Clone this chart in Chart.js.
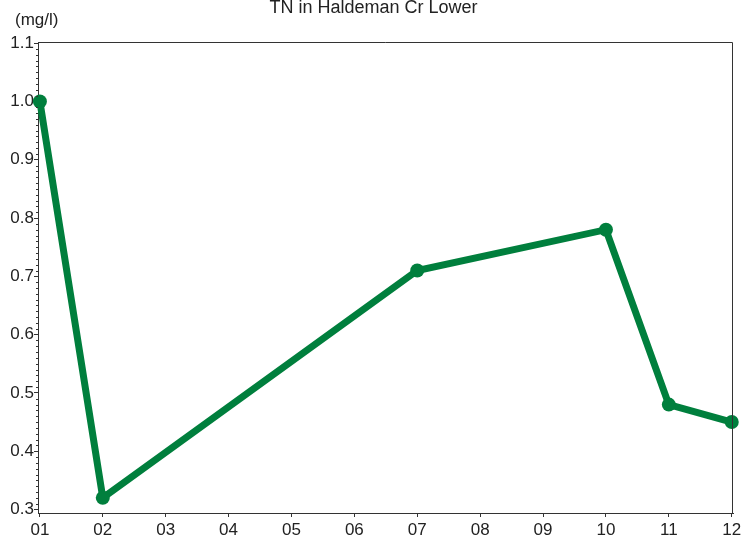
<!DOCTYPE html>
<html>
<head>
<meta charset="utf-8">
<script src="https://cdn.jsdelivr.net/npm/chart.js@4/dist/chart.umd.min.js"></script>
<style>
  html, body { margin: 0; padding: 0; background: #fff; }
  canvas { display: block; }
</style>
</head>
<body>
<canvas id="chart" width="741" height="540"></canvas>
<script>
const months = [1, 2, 7, 10, 11, 12]
const tnValues = [1.0, 0.32, 0.71, 0.78, 0.48, 0.45]
const xTickValues = [1, 2, 3, 4, 5, 6, 7, 8, 9, 10, 11, 12]
const yTickValues = [0.3, 0.4, 0.5, 0.6, 0.7, 0.8, 0.9, 1.0, 1.1]
const chartTitle = "TN in Haldeman Cr Lower"
const unitLabel = "(mg/l)"

const green = "#007f3d"
const inkColor = "#222"
const fontFamily = "Arial, 'Liberation Sans', sans-serif"

// frame, minor ticks and header texts
const decorations = {
  id: "decorations",
  afterDraw(chart) {
    const ctx = chart.ctx
    const area = chart.chartArea
    const y = chart.scales.y
    ctx.save()
    ctx.strokeStyle = "#333"
    ctx.lineWidth = 1
    ctx.beginPath()
    ctx.moveTo(area.left, area.top + 0.5)
    ctx.lineTo(area.right - 0.5, area.top + 0.5)
    ctx.lineTo(area.right - 0.5, area.bottom)
    ctx.stroke()

    ctx.beginPath()
    for (let i = 30; i <= 110; i++) {
      if (i % 10 === 0) continue
      const py = Math.round(y.getPixelForValue(i / 100)) + 0.5
      ctx.moveTo(area.left - 2, py)
      ctx.lineTo(area.left, py)
    }
    ctx.stroke()

    ctx.fillStyle = inkColor
    ctx.font = "18px " + fontFamily
    ctx.textAlign = "center"
    ctx.textBaseline = "alphabetic"
    ctx.fillText(chartTitle, 373.5, 13)

    ctx.font = "17px " + fontFamily
    ctx.textAlign = "left"
    ctx.fillText(unitLabel, 15, 24.5)
    ctx.restore()
  }
}

new Chart(document.getElementById("chart"), {
  type: "line",
  data: {
    datasets: [{
      label: "TN",
      data: months.map((m, i) => ({ x: m, y: tnValues[i] })),
      borderColor: green,
      backgroundColor: green,
      borderWidth: 7,
      pointRadius: 7,
      pointBorderWidth: 0,
      pointBackgroundColor: green,
      tension: 0,
      clip: false
    }]
  },
  options: {
    responsive: false,
    animation: false,
    layout: { padding: { top: 42, right: 8, left: 0, bottom: 0 } },
    plugins: {
      legend: { display: false },
      tooltip: { enabled: false }
    },
    scales: {
      x: {
        type: "linear",
        min: 0.97,
        max: 12.02,
        afterBuildTicks: (scale) => {
          scale.ticks = xTickValues.map(v => ({ value: v }))
        },
        afterFit: (scale) => {
          scale.height = 27
          scale.paddingLeft = 0
          scale.paddingRight = 0
        },
        ticks: {
          autoSkip: false,
          maxRotation: 0,
          padding: 3,
          color: inkColor,
          font: { family: fontFamily, size: 17 },
          callback: (v) => String(v).padStart(2, "0")
        },
        grid: {
          display: true,
          drawOnChartArea: false,
          drawTicks: true,
          tickLength: 4,
          color: "#333"
        },
        border: { display: true, color: "#333", width: 1 }
      },
      y: {
        min: 0.294,
        max: 1.102,
        afterBuildTicks: (scale) => {
          scale.ticks = yTickValues.map(v => ({ value: v }))
        },
        afterFit: (scale) => {
          scale.width = 38
          scale.paddingTop = 0
          scale.paddingBottom = 0
        },
        ticks: {
          padding: 0,
          color: inkColor,
          font: { family: fontFamily, size: 17 },
          callback: (v) => v.toFixed(1)
        },
        grid: {
          display: true,
          drawOnChartArea: false,
          drawTicks: true,
          tickLength: 4,
          color: "#333"
        },
        border: { display: true, color: "#333", width: 1 }
      }
    }
  },
  plugins: [decorations]
})
</script>
</body>
</html>
